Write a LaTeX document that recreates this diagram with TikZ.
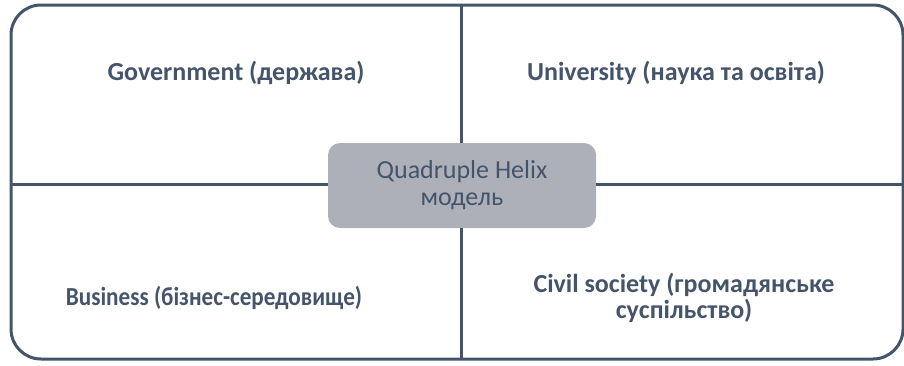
\documentclass[tikz,border=0pt]{standalone}
\usepackage{fontspec}
\setmainfont{Carlito}
\begin{document}
\begin{tikzpicture}[x=1pt,y=-1pt,
  linecol/.style={draw=frame, line width=3pt},
  quadtext/.style={text=txt, font=\fontsize{26}{25.5}\selectfont\bfseries, align=center},
  centerbox/.style={fill=boxfill, rounded corners=12pt, minimum width=268pt, minimum height=85pt, text=txt, font=\fontsize{26}{27}\selectfont, align=center, inner sep=0pt}]
\definecolor{frame}{HTML}{44546A}
\definecolor{txt}{HTML}{44546A}
\definecolor{boxfill}{HTML}{ADB0B8}
\useasboundingbox (0,0) rectangle (904,365);
\draw[linecol, rounded corners=30pt] (11,5) rectangle (903,359);
\coordinate (top) at (461,5);
\coordinate (bot) at (461,359);
\coordinate (lft) at (11,184.5);
\coordinate (rgt) at (903,184.5);
\node[centerbox] (c) at (462,185.5) {Quadruple Helix\\модель};
\draw[linecol] (c.west |- lft) -- (lft);
\draw[linecol] (c.east |- rgt) -- (rgt);
\draw[linecol] (top) -- (top |- c.north);
\draw[linecol] (bot) -- (bot |- c.south);
\node[quadtext] (g) at (236,73) {Government (держава)};
\node[quadtext] (u) at (676,73) {University (наука та освіта)};
\node[quadtext] (b) at (214,298) {\scalebox{0.89}[1]{Business (бізнес-середовище)}};
\node[quadtext] (s) at (684,298) {Civil society (громадянське\\суспільство)};
\end{tikzpicture}
\end{document}
